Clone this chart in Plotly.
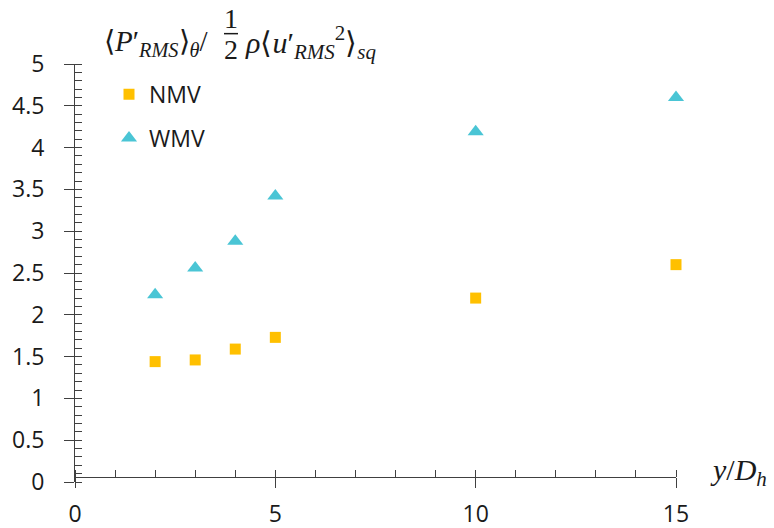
import plotly.graph_objects as go

# ---- data ----
x_vals = [2, 3, 4, 5, 10, 15]
nmv_vals = [1.44, 1.46, 1.59, 1.73, 2.20, 2.60]
wmv_vals = [2.24, 2.56, 2.88, 3.42, 4.19, 4.60]
series_names = ["NMV", "WMV"]
x_ticks = [0, 5, 10, 15]
y_ticks = [0, 0.5, 1, 1.5, 2, 2.5, 3, 3.5, 4, 4.5, 5]
y_tick_text = ["0", "0.5", "1", "1.5", "2", "2.5", "3", "3.5", "4", "4.5", "5"]

W, H = 774, 528
L, R, T, B = 75, 98, 64.3, 46.3
PW, PH = W - L - R, H - T - B

def px(xp):
    return (xp - L) / PW

def py(yp):
    return (H - B - yp) / PH

AXC = "#404040"
TXT = "#1a1a1a"
TICKFONT = dict(family="Open Sans", size=23, color=TXT)
SERIF = "Liberation Serif"

fig = go.Figure()
fig.add_trace(go.Scatter(
    x=x_vals, y=nmv_vals, mode="markers", name=series_names[0], legendgroup="a",
    cliponaxis=False,
    marker=dict(symbol="square", size=11, color="#FFC000"),
))
fig.add_trace(go.Scatter(
    x=x_vals, y=wmv_vals, mode="markers", name=series_names[1], legendgroup="b",
    cliponaxis=False,
    marker=dict(symbol="triangle-up", size=14, color="#4AC5D5"),
))

xpos = 4.7 / PH
common_x = dict(range=[0, 15], showgrid=False, zeroline=False, fixedrange=True, automargin=False)
common_y = dict(range=[0, 5], showgrid=False, zeroline=False, fixedrange=True, automargin=False)

fig.update_layout(
    template="none",
    width=W, height=H,
    margin=dict(l=L, r=R, t=T, b=B, pad=0, autoexpand=False),
    paper_bgcolor="white", plot_bgcolor="white",
    showlegend=True,
    hovermode=False,
    legend=dict(x=px(109), y=py(73), xanchor="left", yanchor="top",
                font=dict(family="Open Sans", size=23, color=TXT),
                bgcolor="rgba(0,0,0,0)", tracegroupgap=11, itemwidth=30),
    xaxis=dict(**common_x, anchor="free", position=xpos,
               showline=True, linecolor=AXC, linewidth=1,
               tickmode="array", tickvals=x_ticks, ticktext=[str(v) for v in x_ticks],
               ticks="outside", ticklen=10, tickcolor=AXC, tickwidth=1,
               tickfont=TICKFONT, ticklabelstandoff=6,
               minor=dict(ticks="inside", ticklen=7, dtick=1, tick0=0, tickcolor=AXC, tickwidth=1)),
    xaxis2=dict(**common_x, overlaying="x", anchor="free", position=xpos,
                showline=False, showticklabels=False,
                tickmode="array", tickvals=x_ticks,
                ticks="inside", ticklen=10, tickcolor=AXC, tickwidth=1),
    yaxis=dict(**common_y, showline=True, linecolor=AXC, linewidth=1,
               tickmode="array", tickvals=y_ticks, ticktext=y_tick_text,
               ticks="outside", ticklen=10, tickcolor=AXC, tickwidth=1,
               tickfont=TICKFONT, ticklabelstandoff=15,
               minor=dict(ticks="inside", ticklen=7, dtick=0.1, tick0=0, tickcolor=AXC, tickwidth=1)),
    yaxis2=dict(**common_y, overlaying="y", anchor="x",
                showline=False, showticklabels=False,
                tickmode="array", tickvals=y_ticks,
                ticks="inside", ticklen=10, tickcolor=AXC, tickwidth=1),
)

# ---- y-axis title (composed) ----
tf = dict(family=SERIF, size=29, color=TXT)
fig.add_annotation(xref="paper", yref="paper", x=px(102), y=py(43),
                   xanchor="left", yanchor="middle", showarrow=False, font=tf,
                   text="⟨<i>P</i>′<sub><i>RMS</i></sub>⟩<sub><i>θ</i></sub>/")
fig.add_annotation(xref="paper", yref="paper", x=px(231), y=py(19),
                   xanchor="center", yanchor="middle", showarrow=False,
                   font=dict(family=SERIF, size=28, color=TXT), text="1")
fig.add_annotation(xref="paper", yref="paper", x=px(231), y=py(50),
                   xanchor="center", yanchor="middle", showarrow=False,
                   font=dict(family=SERIF, size=28, color=TXT), text="2")
fig.add_shape(type="line", xref="paper", yref="paper",
              x0=px(224), x1=px(238), y0=py(34), y1=py(34),
              line=dict(color=TXT, width=1.5))
fig.add_annotation(xref="paper", yref="paper", x=px(243), y=py(43),
                   xanchor="left", yanchor="middle", showarrow=False,
                   font=dict(family=SERIF, size=30, color=TXT),
                   text="<i>ρ</i>⟨<i>u</i>′<sub><i>RMS</i></sub><sup>2</sup>⟩<sub><i>sq</i></sub>")

# ---- x-axis title ----
fig.add_annotation(xref="paper", yref="paper", x=px(708), y=py(472),
                   xanchor="left", yanchor="middle", showarrow=False,
                   font=dict(family=SERIF, size=30, color=TXT),
                   text="<i>y</i>/<i>D</i><sub><i>h</i></sub>")

fig.write_html("out.html", config={"displayModeBar": False, "staticPlot": True},
               post_script="document.body.style.margin='0px';")
